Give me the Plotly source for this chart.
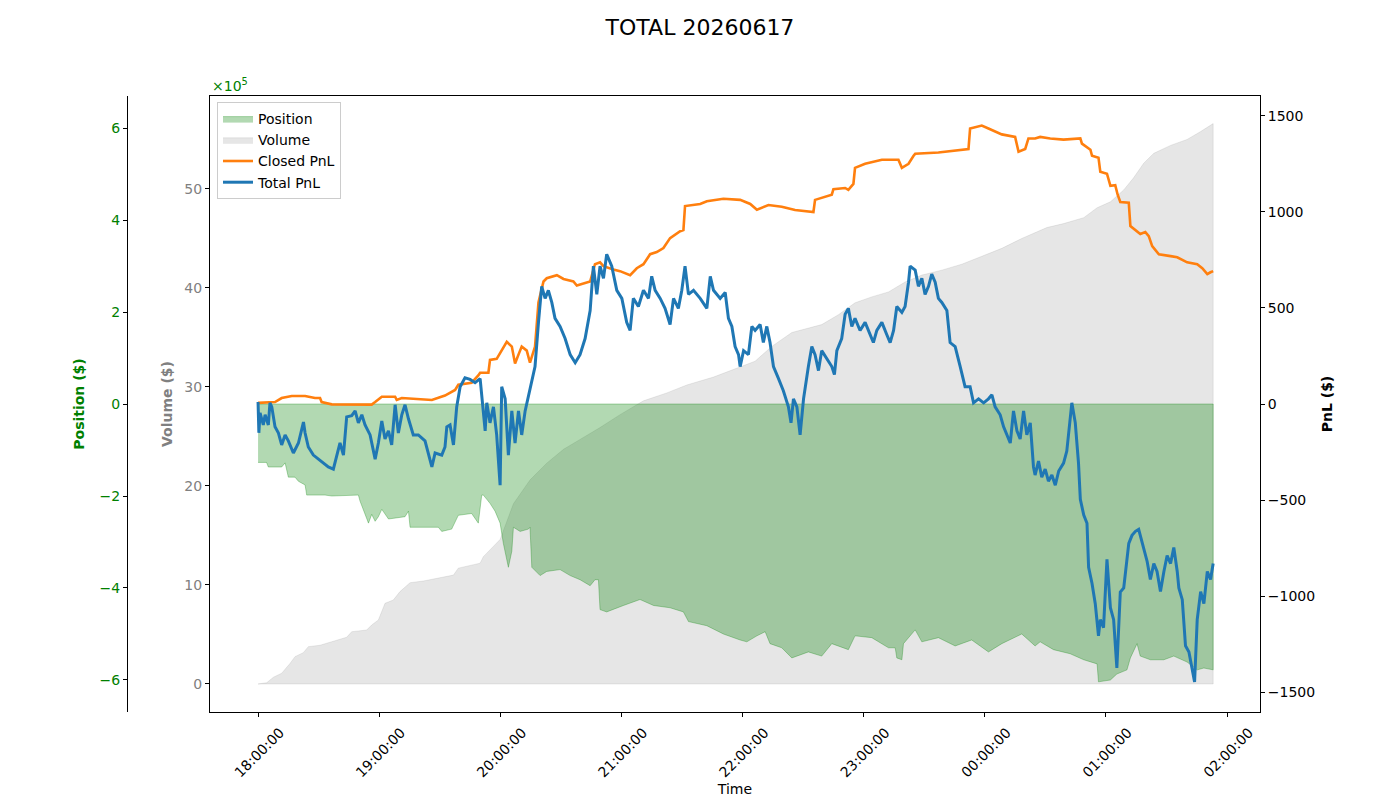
import pandas as pd
import plotly.graph_objects as go

BASE = pd.Timestamp("2026-06-17 18:00:00")

# ---------------- data (minutes after 18:00) ----------------
vol_min = [0, 4.3, 7.6, 11.7, 15.9, 18.3, 22.4, 24.9, 30.7, 39.0, 43.9, 46.4, 53.8, 56.3, 59.6,
           62.9, 67.0, 70.3, 75.3, 81.9, 96.8, 99.2, 110.0, 111.6, 116.6, 119.9, 126.5, 134.7,
           143.0, 151.3, 159.5, 169.4, 179.3, 190.9,
           202.5, 212.4, 225.6, 238.8, 246.2, 254.5, 264.4, 279.2, 287.5, 295.7, 304.0, 312.3,
           320.5, 328.8, 338.7, 348.6, 358.5, 368.4, 378.3, 384.9, 390.7, 399.0, 409.0, 415.6,
           422.2, 428.8, 433.6, 438.7, 443.7, 452.0, 460.2, 466.9, 470.2, 473.1]
volume_1e5 = [0, 0.13, 0.68, 1.08, 2.09, 2.76, 3.16, 3.77, 3.91, 4.44, 4.72, 5.28, 5.45, 5.96, 6.46,
              8.15, 8.48, 9.33, 10.23, 10.4, 11.0, 11.7, 12.2, 12.86, 13.87, 14.6, 18.2, 20.6,
              22.3, 23.7, 24.7, 25.9, 27.2, 28.6,
              29.4, 30.2, 31.0, 32.0, 32.6, 34.1, 35.5, 36.3, 37.3, 38.5, 39.1, 39.6,
              40.6, 41.3, 41.8, 42.4, 43.2, 44.0, 45.0, 45.6, 46.1, 46.5, 47.1, 48.1,
              48.7, 49.9, 51.1, 52.6, 53.6, 54.4, 55.0, 55.8, 56.2, 56.6]

pos_min = [0, 4.2, 5.1, 11.7, 13.4, 15.0, 18.3, 20.0, 23.3, 24.1, 33.2, 36.5, 49.7, 50.5, 54.7,
           56.3, 58.0, 59.6, 61.3, 64.6, 72.8, 74.5, 75.3, 89.3, 91.0, 95.9, 99.2, 105.8, 109.1,
           110.8, 111.6, 114.9, 117.4, 119.9, 121.5, 124.0, 125.7, 126.5, 129.8, 133.9, 134.7,
           135.6, 139.7, 143.0, 149.6, 154.6, 159.5, 164.5, 166.9, 168.6, 169.4, 172.7, 181.0,
           189.2, 195.9, 204.1, 210.7, 213.2, 222.3, 230.5, 238.8, 242.1, 247.1, 251.2, 253.6,
           259.4, 264.4, 272.6, 279.2, 284.2, 292.4, 295.7, 304.0, 312.3, 315.6, 316.4, 318.9,
           319.7, 325.5, 328.8, 337.0, 345.3, 353.5, 361.8, 368.4, 378.3, 384.9, 387.4, 394.0,
           402.3, 409.0, 415.6, 416.3, 422.2, 425.4, 430.4, 432.1, 435.4, 437.0, 442.0, 448.7,
           453.6, 460.2, 465.2, 468.5, 473.1]
position_1e5 = [-1.27, -1.27, -1.37, -1.37, -1.28, -1.59, -1.59, -1.68, -1.76, -1.98, -1.98, -2.0,
                -1.98, -2.11, -2.59, -2.4, -2.55, -2.45, -2.29, -2.5, -2.45, -2.33, -2.68, -2.68,
                -2.77, -2.72, -2.42, -2.38, -2.59, -1.98, -1.98, -2.16, -2.33, -2.59, -3.03, -3.55,
                -3.2, -2.68, -2.77, -2.72, -2.68, -3.55, -3.73, -3.64, -3.6, -3.73, -3.82, -3.95,
                -3.82, -3.82, -4.47, -4.52, -4.38, -4.25, -4.38, -4.43, -4.52, -4.73, -4.82, -5.0,
                -5.13, -5.17, -5.04, -4.95, -5.21, -5.3, -5.52, -5.39, -5.48, -5.21, -5.34, -5.04,
                -5.08, -5.3, -5.3, -5.52, -5.56, -5.21, -4.91, -5.17, -5.08, -5.26, -5.13, -5.39,
                -5.21, -5.0, -5.26, -5.17, -5.34, -5.43, -5.56, -5.65, -6.04, -6.0, -5.87, -5.78,
                -5.52, -5.21, -5.48, -5.56, -5.56, -5.48, -5.61, -5.78, -5.74, -5.78]

closed_min = [0, 8.4, 11.7, 16.7, 23.3, 28.2, 30.7, 31.5, 36.5, 56.3, 58.0, 61.3, 67.9, 68.7, 71.2,
              79.4, 86.1, 92.6, 97.6, 99.2, 105.8, 109.1, 110.0, 114.1, 114.9, 118.2, 119.9,
              123.2, 125.7, 127.3, 129.0, 130.6, 133.1, 134.7, 137.2, 138.9, 141.4, 143.0, 148.0,
              151.3, 156.2, 157.9, 164.5, 166.9, 169.4, 171.1, 176.0, 179.3, 184.3, 187.6, 190.9,
              194.2, 197.5, 200.8, 204.1, 209.1, 210.7, 211.5, 219.0, 222.3, 230.5, 238.8, 243.8,
              247.1, 252.8, 259.4, 266.0, 272.6, 275.1, 275.9, 279.2, 284.2, 285.0, 290.8, 292.4,
              294.9, 295.7, 300.7, 309.0, 317.2, 318.9, 322.2, 324.7, 325.5, 337.0, 345.3, 351.9,
              352.7, 358.5, 361.8, 368.4, 375.0, 376.7, 380.0, 381.6, 384.9, 387.4, 392.4, 399.0,
              407.3, 408.1, 412.3, 413.1, 416.3, 417.2, 420.5, 422.2, 424.6, 425.8, 427.1, 431.3,
              432.1, 434.6, 437.0, 439.5, 441.2, 442.9, 446.2, 452.0, 455.3, 460.2, 465.2, 467.7,
              470.2, 471.8, 473.1]
closed_pnl = [6, 10, 31, 42, 42, 31, 31, 10, -2, -3, 10, 38, 38, 21, 31,
              27, 21, 44, 73, 100, 111, 149, 163, 163, 230, 235, 268,
              324, 299, 211, 257, 299, 278, 215, 299, 529, 638, 655, 671,
              651, 638, 617, 638, 728, 738, 718, 701, 692, 671, 707, 728,
              780, 791, 812, 864, 900, 906, 1031, 1042, 1056, 1069, 1063, 1042,
              1012, 1036, 1027, 1010, 1000, 1000, 1063, 1073, 1090, 1119, 1125, 1115,
              1146, 1230, 1251, 1272, 1272, 1230, 1251, 1293, 1303, 1310, 1320, 1328,
              1435, 1450, 1435, 1404, 1391, 1314, 1328, 1383, 1383, 1391, 1383, 1377,
              1383, 1356, 1324, 1293, 1283, 1209, 1199, 1136, 1140, 1090, 1052, 1048,
              927, 906, 885, 895, 874, 822, 780, 770, 764, 738, 728, 707,
              676, 686, 692]

total_min = [0, 0.4, 1.0, 2.6, 3.5, 5.1, 5.9, 6.8, 8.4, 10.1, 11.7, 13.4, 15.0, 17.5, 20.0, 22.5,
             23.3, 24.9, 27.4, 29.9, 32.4, 34.8, 37.3, 39.0, 40.6, 42.3, 43.9, 46.4, 48.1, 49.7,
             51.4, 53.0, 55.5, 58.0, 59.6, 61.3, 62.9, 64.6, 66.2, 67.9, 69.5, 71.2, 72.8, 74.5,
             76.9, 79.4, 82.7, 86.1, 87.7, 91.0, 92.6, 93.5, 95.1, 96.8, 98.4, 100.1, 102.5, 105.0,
             107.5, 110.0, 110.8, 112.5, 113.3, 114.9, 116.6, 118.2, 119.9, 120.7, 122.4, 124.0,
             125.7, 127.3, 129.0, 130.6, 132.3, 134.7, 137.2, 138.9, 140.5, 142.2, 143.8, 145.5,
             147.1, 149.6, 152.1, 154.6, 157.1, 159.5, 162.0, 164.5, 166.1, 167.8, 169.4, 171.1,
             172.7, 175.2, 177.7, 180.2, 182.6, 184.3, 185.9, 188.4, 190.9, 193.4, 195.0, 196.7,
             199.2, 201.6, 204.1, 205.8, 208.2, 209.9, 211.5, 213.2, 215.7, 219.0, 222.3, 224.0,
             225.6, 228.9, 231.4, 233.0, 234.7, 236.3, 238.0, 238.8, 240.5, 242.9, 244.6, 246.2,
             248.7, 250.3, 252.0, 253.6, 255.3, 257.8, 260.2, 262.7, 264.0, 265.2, 266.9, 268.5,
             270.2, 272.6, 274.3, 275.9, 277.6, 279.2, 281.7, 284.2, 285.5, 286.7, 289.1, 290.8,
             292.4, 294.1, 295.7, 298.2, 300.7, 303.2, 304.8, 306.5, 309.0, 311.4, 313.1, 314.8,
             316.4, 318.9, 320.5, 322.2, 323.0, 325.5, 327.1, 328.8, 330.4, 332.1, 333.7, 335.4,
             337.0, 338.7, 341.2, 342.8, 345.3, 347.8, 350.2, 352.7, 354.4, 356.9, 359.4, 361.8,
             363.5, 365.1, 367.6, 369.3, 370.9, 372.6, 374.2, 375.9, 377.5, 379.2, 380.8, 382.5,
             384.1, 384.9, 386.6, 388.2, 389.9, 391.5, 393.2, 394.9, 396.6, 399.0, 400.6, 401.9,
             403.1, 404.8, 406.4, 407.3, 409.0, 410.6, 411.4, 413.1, 414.7, 416.3, 417.2, 418.8,
             420.5, 422.2, 423.8, 425.4, 427.1, 428.8, 431.3, 432.9, 434.6, 436.2, 438.7, 440.4,
             442.0, 443.7, 445.3, 447.0, 448.7, 450.3, 452.0, 453.6, 455.3, 456.1, 457.8, 459.4,
             461.1, 462.7, 463.9, 465.2, 466.9, 468.5, 470.2, 471.8, 473.1]
total_pnl = [10, -150, -46, -109, -56, -109, 6, -15, -119, -151, -213, -161, -192, -255, -203, -94,
             -151, -224, -266, -287, -308, -328, -339, -266, -203, -266, -67, -61, -36, -98,
             -56, -109, -161, -287, -203, -88, -182, -140, -213, -4, -151, -56, -4, -77,
             -161, -161, -192, -328, -255, -266, -224, -119, -109, -213, -15, 90, 136, 128,
             111, 132, 48, -140, 6, -98, -15, -161, -423, 90, 27, -266,
             -36, -203, -36, -161, -36, 79, 195, 425, 613, 550, 592, 529,
             446, 404, 341, 257, 215, 257, 341, 487, 718, 571, 718, 655,
             780, 718, 592, 550, 425, 383, 550, 508, 592, 550, 665, 592,
             550, 498, 414, 550, 498, 592, 718, 571, 592, 550, 498, 665,
             592, 550, 581, 446, 404, 299, 257, 195, 278, 257, 404, 383,
             414, 320, 404, 320, 195, 132, 69, -15, -98, 27, -15, -161,
             27, 195, 299, 257, 174, 278, 236, 195, 153, 278, 341, 467,
             498, 404, 446, 383, 425, 362, 320, 383, 425, 362, 320, 383,
             508, 477, 508, 634, 718, 697, 613, 655, 571, 613, 676, 634,
             550, 529, 487, 320, 299, 195, 90, 90, 6, 27, 6, 27,
             48, -15, -56, -119, -161, -203, -36, -140, -182, -36, -161, -98,
             -328, -370, -297, -381, -339, -402, -370, -423, -349, -308, -245, -98,
             6, -98, -308, -496, -579, -621, -851, -935, -1040, -1207, -1123, -1165,
             -809, -1061, -1123, -1374, -979, -958, -726, -684, -663, -653, -747, -820,
             -914, -831, -872, -977, -872, -789, -831, -747, -872, -958, -1019, -1259,
             -1291, -1374, -1448, -1123, -977, -1040, -872, -914, -831]

hour_ticks = ["18:00", "19:00", "20:00", "21:00", "22:00", "23:00", "00:00", "01:00", "02:00"]
pos_ticks = [-6, -4, -2, 0, 2, 4, 6]
vol_ticks = [0, 10, 20, 30, 40, 50]
pnl_ticks = [-1500, -1000, -500, 0, 500, 1000, 1500]


def to_time(mins):
    return [BASE + pd.Timedelta(minutes=m) for m in mins]


def tick_time(hhmm):
    h, m = map(int, hhmm.split(":"))
    day = BASE.normalize() + pd.Timedelta(days=1 if h < 12 else 0)
    return day + pd.Timedelta(hours=h, minutes=m)


FONT = "DejaVu Sans"
fig = go.Figure()

vt = to_time(vol_min)
fig.add_trace(go.Scatter(
    x=vt + vt[::-1], y=volume_1e5 + [0] * len(vt), yaxis="y",
    fill="toself", fillcolor="rgba(128,128,128,0.2)", mode="lines",
    line=dict(color="rgba(128,128,128,0.2)", width=0.8), name="Volume",
    legendrank=2, hoverinfo="skip"))

pt = to_time(pos_min)
fig.add_trace(go.Scatter(
    x=pt + pt[::-1], y=position_1e5 + [0] * len(pt), yaxis="y2",
    fill="toself", fillcolor="rgba(0,128,0,0.3)", mode="lines",
    line=dict(color="rgba(0,128,0,0.3)", width=1), name="Position",
    legendrank=1, hoverinfo="skip"))

fig.add_trace(go.Scatter(
    x=to_time(closed_min), y=closed_pnl, yaxis="y3", mode="lines",
    line=dict(color="#ff7f0e", width=2.6), name="Closed PnL", legendrank=3,
    hoverinfo="skip"))

fig.add_trace(go.Scatter(
    x=to_time(total_min), y=total_pnl, yaxis="y3", mode="lines",
    line=dict(color="#1f77b4", width=3), name="Total PnL", legendrank=4,
    hoverinfo="skip"))

L, R = 60, 140
W = 1400 - L - R
x_start = (210 - L) / W
pos_axis = (127 - L) / W

tick_font = dict(family=FONT, size=14, color="black")
fig.update_layout(
    width=1400, height=800,
    margin=dict(l=L, r=R, t=96, b=88),
    paper_bgcolor="white", plot_bgcolor="white",
    font=dict(family=FONT, size=14, color="black"),
    title=dict(text="TOTAL 20260617", x=0.5, xref="container", xanchor="center",
               y=1 - 27 / 800, yref="container", yanchor="middle",
               font=dict(family=FONT, size=22, color="black")),
    showlegend=True,
    legend=dict(x=(217 - L) / W, y=(712 - 102) / 616, xanchor="left", yanchor="top",
                bgcolor="rgba(255,255,255,0.8)", bordercolor="#cccccc", borderwidth=1,
                font=dict(family=FONT, size=14, color="black"), traceorder="normal",
                itemwidth=30, tracegroupgap=0),
    hovermode=False,
    xaxis=dict(
        domain=[x_start, 1], type="date", automargin=False,
        range=[BASE + pd.Timedelta(minutes=-23.8), BASE + pd.Timedelta(minutes=496.3)],
        tickvals=[tick_time(h) for h in hour_ticks], tickformat="%H:%M:%S",
        tickangle=-45, ticks="outside", ticklen=4, tickcolor="black",
        ticklabelshift=22, ticklabelstandoff=2,
        showline=True, mirror=True, linecolor="black", linewidth=1,
        showgrid=False, zeroline=False, tickfont=tick_font,
        title=dict(text="Time", font=dict(family=FONT, size=14, color="black"), standoff=4),
        anchor="y"),
    yaxis=dict(
        range=[-2.83, 59.39], tickvals=vol_ticks, ticks="outside", ticklen=4,
        tickcolor="black", showline=True, linecolor="black", linewidth=1,
        showgrid=False, zeroline=False, automargin=False,
        tickfont=dict(family=FONT, size=14, color="gray"),
        title=dict(text="<b>Volume ($)</b>", font=dict(family=FONT, size=14, color="gray"),
                   standoff=8),
        anchor="x", side="left"),
    yaxis2=dict(
        range=[-6.696, 6.696], tickvals=pos_ticks, ticks="outside", ticklen=4,
        tickcolor="black", showline=True, linecolor="black", linewidth=1,
        showgrid=False, zeroline=False, overlaying="y", anchor="free", position=pos_axis,
        side="left", automargin=False, tickfont=dict(family=FONT, size=14, color="green"),
        title=dict(text="<b>Position ($)</b>", font=dict(family=FONT, size=14, color="green"),
                   standoff=10)),
    yaxis3=dict(
        range=[-1604, 1604], tickvals=pnl_ticks, ticks="outside", ticklen=4,
        tickcolor="black", showline=True, linecolor="black", linewidth=1,
        showgrid=False, zeroline=False, overlaying="y", anchor="x", side="right",
        automargin=False, tickfont=tick_font,
        title=dict(text="<b>PnL ($)</b>", font=dict(family=FONT, size=14, color="black"),
                   standoff=8)),
    annotations=[dict(text="×10<sup>5</sup>", xref="paper", yref="paper",
                      x=x_start, y=1, xanchor="left", yanchor="bottom", showarrow=False,
                      font=dict(family=FONT, size=14, color="green"))],
)

fig.write_html("out.html", config={"displayModeBar": False})
